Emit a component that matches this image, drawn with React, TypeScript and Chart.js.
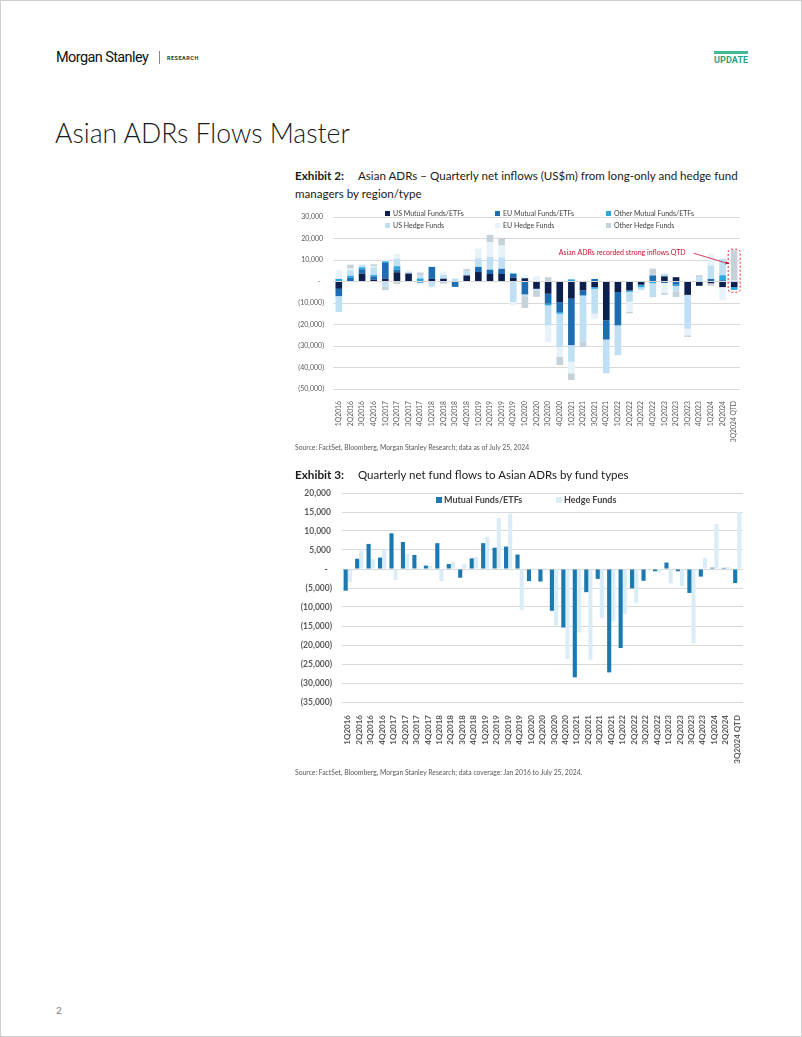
import React, { useEffect, useRef } from 'react';
import { Chart, registerables } from 'chart.js';

Chart.register(...registerables);

// ---------- shared categories ----------
const QUARTERS: string[] = [
  '1Q2016', '2Q2016', '3Q2016', '4Q2016',
  '1Q2017', '2Q2017', '3Q2017', '4Q2017',
  '1Q2018', '2Q2018', '3Q2018', '4Q2018',
  '1Q2019', '2Q2019', '3Q2019', '4Q2019',
  '1Q2020', '2Q2020', '3Q2020', '4Q2020',
  '1Q2021', '2Q2021', '3Q2021', '4Q2021',
  '1Q2022', '2Q2022', '3Q2022', '4Q2022',
  '1Q2023', '2Q2023', '3Q2023', '4Q2023',
  '1Q2024', '2Q2024', '3Q2024 QTD',
];

// ---------- Exhibit 2 series (US$m) ----------
const US_MF: number[] = [
  -3400, 0, 3700, 800, 1300, 4300, 3700, 0, 1200, 1300, 0, 2800,
  4400, 3500, 3500, 1800, 1500, -3400, -5700, -9600, -8000, -4200, -2600, -18100,
  -4900, -4200, -1500, 0, 2400, 2000, -6200, -2000, -800, -2600, -2600,
];
const EU_MF: number[] = [
  -3400, 1700, 2000, 1600, 7300, 1200, 0, -500, 5600, 0, -2500, 0,
  2400, 1900, 2400, 1700, -6000, 0, -4600, -4600, -21600, -2300, 1200, -8900,
  -15500, 0, 0, 2800, -700, -1500, 0, 0, 1200, 600, 0,
];
const OTHER_MF: number[] = [
  1200, 1000, 900, 600, 800, 1600, 0, 1400, 0, 0, 0, 0,
  0, 200, 0, 300, 0, 0, -800, -800, 1000, 0, -800, 0,
  0, -600, -1200, -800, 0, -600, 0, 0, 0, 2300, -1300,
];
const US_HF: number[] = [
  -7400, 2500, 1000, 3500, -2500, 3500, 800, 1500, -2200, 1800, 1300, 2000,
  4000, 5800, 5400, -9600, -800, -1000, -9300, -15400, -7700, -21600, -11600, -15700,
  -13900, -4600, -1300, -6500, 1200, -2500, -15700, 2000, 6200, 7700, 500,
];
const EU_HF: number[] = [
  4000, 800, 600, 700, 1000, 2300, 600, -1000, -1000, 1500, 500, 0,
  4500, 6900, 5400, -1500, 1500, 2500, -7800, -4600, -5400, 0, -2300, 0,
  0, -4600, 0, 0, -4500, 0, -3100, 0, 5600, -6200, 0,
];
const OTHER_HF: number[] = [
  0, 1800, 0, 800, -1500, -1100, 0, 1300, 0, -1000, 0, 1000,
  0, 3400, 3600, 0, -5500, -2700, 2000, -3900, -3100, -2300, 0, 0,
  0, -800, 0, 3200, -1000, -2600, -800, 900, -1200, 0, 14000,
];
const EX2_LEGEND: string[] = [
  'US Mutual Funds/ETFs', 'EU Mutual Funds/ETFs', 'Other Mutual Funds/ETFs',
  'US Hedge Funds', 'EU Hedge Funds', 'Other Hedge Funds',
];
const EX2_COLORS: string[] = ['#0c1f4d', '#1d6db4', '#2ba6df', '#bfe0f2', '#e8f3f9', '#c6d2da'];
const EX2_Y_MIN = -50000;
const EX2_Y_MAX = 30000;
const EX2_Y_STEP = 10000;
const NOTE_TEXT = 'Asian ADRs recorded strong inflows QTD';
const NOTE_ANCHOR_INDEX = 30;
const NOTE_Y = 13600;
const BOX_TOP = 15000;
const BOX_BOTTOM = -5000;

// ---------- Exhibit 3 series (US$m) ----------
const MUTUAL_FUNDS: number[] = [
  -5700, 2700, 6600, 3000, 9400, 7100, 3700, 900, 6800, 1300, -2300, 2800,
  6800, 5600, 5900, 3800, -3200, -3300, -11000, -15400, -28500, -6100, -2600, -27200,
  -20800, -5100, -3100, -600, 1700, -600, -6300, -2000, 350, 300, -3700,
];
const HEDGE_FUNDS: number[] = [
  -3500, 4800, 2600, 5000, -2900, 3900, 400, 800, -3200, 1800, 1300, 3100,
  8500, 13400, 14600, -10800, 200, 300, -14900, -23700, -16700, -23900, -12900, -13800,
  -11800, -9000, -300, -900, -3800, -4600, -19600, 2900, 11800, 500, 14900,
];
const EX3_LEGEND: string[] = ['Mutual Funds/ETFs', 'Hedge Funds'];
const EX3_COLORS: string[] = ['#1b79b0', '#daedf6'];
const EX3_Y_MIN = -35000;
const EX3_Y_MAX = 20000;
const EX3_Y_STEP = 5000;

const FONT = 'Lato, "Open Sans", sans-serif';
const AXIS_TEXT = '#595959';
const GRID = '#d9d9d9';

function fmt(v: number): string {
  if (v === 0) return '-\u2002';
  const s = Math.abs(v).toString().replace(/\B(?=(\d{3})+(?!\d))/g, ',');
  return v < 0 ? `(${s})` : `${s}\u2009`;
}

const notePlugin = {
  id: 'qtdNote',
  afterDatasetsDraw(chart: any) {
    const { ctx, scales } = chart;
    const x = scales.x;
    const y = scales.y;
    const last = QUARTERS.length - 1;
    const cx = x.getPixelForValue(last);
    const top = y.getPixelForValue(BOX_TOP);
    const bot = y.getPixelForValue(BOX_BOTTOM);
    ctx.save();
    ctx.strokeStyle = '#e0283c';
    ctx.lineWidth = 1;
    ctx.setLineDash([2, 2]);
    ctx.beginPath();
    if ((ctx as any).roundRect) (ctx as any).roundRect(cx - 6, top, 12, bot - top, 3);
    else ctx.rect(cx - 6, top, 12, bot - top);
    ctx.stroke();
    ctx.setLineDash([]);
    const tx = x.getPixelForValue(NOTE_ANCHOR_INDEX) - 2;
    const ty = y.getPixelForValue(NOTE_Y);
    ctx.fillStyle = '#c8102e';
    ctx.font = `7px ${FONT}`;
    ctx.textAlign = 'right';
    ctx.textBaseline = 'middle';
    ctx.fillText(NOTE_TEXT, tx, ty);
    // arrow
    const x0 = tx + 8;
    const y0 = ty + 1;
    const x1 = cx - 5;
    const y1 = y.getPixelForValue(BOX_TOP - 6800);
    ctx.strokeStyle = '#c8102e';
    ctx.lineWidth = 0.8;
    ctx.beginPath();
    ctx.moveTo(x0, y0);
    ctx.lineTo(x1, y1);
    ctx.stroke();
    const ang = Math.atan2(y1 - y0, x1 - x0);
    ctx.fillStyle = '#c8102e';
    ctx.beginPath();
    ctx.moveTo(x1, y1);
    ctx.lineTo(x1 - 4 * Math.cos(ang - 0.45), y1 - 4 * Math.sin(ang - 0.45));
    ctx.lineTo(x1 - 4 * Math.cos(ang + 0.45), y1 - 4 * Math.sin(ang + 0.45));
    ctx.closePath();
    ctx.fill();
    ctx.restore();
  },
};

function Exhibit2Chart() {
  const ref = useRef<HTMLCanvasElement>(null);
  useEffect(() => {
    if (!ref.current) return;
    const series = [US_MF, EU_MF, OTHER_MF, US_HF, EU_HF, OTHER_HF];
    const chart = new Chart(ref.current, {
      type: 'bar',
      data: {
        labels: QUARTERS,
        datasets: series.map((d, i) => ({
          label: EX2_LEGEND[i],
          data: d,
          backgroundColor: EX2_COLORS[i],
          borderWidth: 0,
          barPercentage: 0.57,
          categoryPercentage: 1,
          stack: 'all',
        })),
      },
      options: {
        responsive: false,
        animation: false,
        devicePixelRatio: 1,
        layout: { padding: { top: 11, right: 6, left: 0, bottom: 0 } },
        plugins: { legend: { display: false }, tooltip: { enabled: false } },
        scales: {
          x: {
            stacked: true,
            grid: { display: false },
            border: { display: false },
            ticks: {
              autoSkip: false, maxRotation: 90, minRotation: 90, padding: 4,
              color: AXIS_TEXT, font: { size: 6.8, family: FONT },
            },
            afterFit: (s: any) => { s.height = 57; s.paddingLeft = 0; s.paddingRight = 0; },
          },
          y: {
            stacked: true,
            min: EX2_Y_MIN,
            max: EX2_Y_MAX,
            ticks: {
              stepSize: EX2_Y_STEP, padding: 9, color: AXIS_TEXT,
              font: { size: 7, family: FONT },
              callback: (v: any) => fmt(Number(v)),
            },
            grid: { color: GRID, drawTicks: false, lineWidth: 1 },
            border: { display: false },
            afterFit: (s: any) => { s.width = 42; s.paddingTop = 0; s.paddingBottom = 0; },
          },
        },
      },
      plugins: [notePlugin],
    } as any);
    return () => chart.destroy();
  }, []);
  return <canvas ref={ref} width={455} height={240} style={{ position: 'absolute', left: 290, top: 205 }} />;
}

function Exhibit3Chart() {
  const ref = useRef<HTMLCanvasElement>(null);
  useEffect(() => {
    if (!ref.current) return;
    const series = [MUTUAL_FUNDS, HEDGE_FUNDS];
    const chart = new Chart(ref.current, {
      type: 'bar',
      data: {
        labels: QUARTERS,
        datasets: series.map((d, i) => ({
          label: EX3_LEGEND[i],
          data: d,
          backgroundColor: EX3_COLORS[i],
          borderWidth: 0,
          barPercentage: 1,
          categoryPercentage: 0.72,
        })),
      },
      options: {
        responsive: false,
        animation: false,
        devicePixelRatio: 1,
        layout: { padding: { top: 7, right: 8, left: 0, bottom: 0 } },
        plugins: { legend: { display: false }, tooltip: { enabled: false } },
        scales: {
          x: {
            grid: { display: false },
            border: { display: false },
            ticks: {
              autoSkip: false, maxRotation: 90, minRotation: 90, padding: 5,
              color: AXIS_TEXT, font: { size: 8, family: FONT, weight: 'bold' },
            },
            afterFit: (s: any) => { s.height = 69; s.paddingLeft = 0; s.paddingRight = 0; },
          },
          y: {
            min: EX3_Y_MIN,
            max: EX3_Y_MAX,
            ticks: {
              stepSize: EX3_Y_STEP, padding: 10, color: AXIS_TEXT,
              font: { size: 8.5, family: FONT, weight: 'bold' },
              callback: (v: any) => fmt(Number(v)),
            },
            grid: { color: GRID, drawTicks: false, lineWidth: 1 },
            border: { display: false },
            afterFit: (s: any) => { s.width = 51; s.paddingTop = 0; s.paddingBottom = 0; },
          },
        },
      },
    } as any);
    return () => chart.destroy();
  }, []);
  return <canvas ref={ref} width={460} height={285} style={{ position: 'absolute', left: 290, top: 485 }} />;
}

const abs = (left: number, top: number, extra: React.CSSProperties = {}): React.CSSProperties => ({
  position: 'absolute', left, top, whiteSpace: 'nowrap', ...extra,
});

function LegendItem({ left, top, color, text, size, font, bold, sq }: any) {
  return (
    <div style={abs(left, top, { display: 'flex', alignItems: 'center', fontFamily: FONT, fontSize: font, fontWeight: bold ? 700 : 400, color: '#404040', lineHeight: `${font + 2}px` })}>
      <span style={{ display: 'inline-block', width: sq, height: sq, background: color, marginRight: size }} />
      {text}
    </div>
  );
}

export default function App() {
  const ex2LegendPos = [
    [384, 208], [494, 208], [605, 208],
    [384, 219.5], [494, 219.5], [605, 219.5],
  ];
  return (
    <div style={{ position: 'absolute', left: 0, top: 0, width: 802, height: 1037, background: '#fff', boxSizing: 'border-box', border: '1px solid #cfcfcf', overflow: 'hidden', fontFamily: FONT }}>
      {/* header */}
      <div style={abs(55, 48, { fontFamily: 'Roboto, sans-serif', fontSize: 14.5, letterSpacing: -0.6, color: '#111', lineHeight: '18px' })}>Morgan Stanley</div>
      <div style={abs(158, 50, { width: 1, height: 13, background: '#888' })} />
      <div style={abs(166, 53, { fontFamily: 'Roboto, sans-serif', fontSize: 5.5, fontWeight: 700, letterSpacing: 0.5, color: '#333', lineHeight: '8px' })}>RESEARCH</div>
      <div style={abs(713, 50, { width: 34, height: 2.5, background: '#45bb91' })} />
      <div style={abs(713, 54, { fontFamily: 'Roboto, sans-serif', fontSize: 9, fontWeight: 700, color: '#2aa57b', lineHeight: '11px', letterSpacing: 0.1 })}>UPDATE</div>

      {/* title */}
      <div style={abs(54, 118, { fontSize: 26.6, fontWeight: 300, color: '#1a1a1a', lineHeight: '28px' })}>Asian ADRs Flows Master</div>

      {/* exhibit 2 heading */}
      <div style={abs(294, 167, { fontSize: 11.7, fontWeight: 700, color: '#1a1a1a', lineHeight: '15px' })}>Exhibit 2:</div>
      <div style={abs(357, 167, { fontSize: 11.6, color: '#1a1a1a', lineHeight: '15px' })}>Asian ADRs – Quarterly net inflows (US$m) from long-only and hedge fund</div>
      <div style={abs(294, 185, { fontSize: 11.6, color: '#1a1a1a', lineHeight: '15px' })}>managers by region/type</div>

      <Exhibit2Chart />
      {EX2_LEGEND.map((t, i) => (
        <LegendItem key={t} left={ex2LegendPos[i][0]} top={ex2LegendPos[i][1]} color={EX2_COLORS[i]} text={t} size={3} font={7} sq={5} />
      ))}

      <div style={abs(294, 442, { fontSize: 6.8, color: '#595959', lineHeight: '9px' })}>Source: FactSet, Bloomberg, Morgan Stanley Research; data as of July 25, 2024</div>

      {/* exhibit 3 heading */}
      <div style={abs(294, 466, { fontSize: 11.7, fontWeight: 700, color: '#1a1a1a', lineHeight: '15px' })}>Exhibit 3:</div>
      <div style={abs(357, 466, { fontSize: 11.5, color: '#1a1a1a', lineHeight: '15px' })}>Quarterly net fund flows to Asian ADRs by fund types</div>

      <Exhibit3Chart />
      <LegendItem left={435} top={493} color={EX3_COLORS[0]} text={EX3_LEGEND[0]} size={2} font={9} bold sq={6} />
      <LegendItem left={555} top={493} color={EX3_COLORS[1]} text={EX3_LEGEND[1]} size={2} font={9} bold sq={6} />

      <div style={abs(294, 767, { fontSize: 6.8, color: '#595959', lineHeight: '9px' })}>Source: FactSet, Bloomberg, Morgan Stanley Research; data coverage: Jan 2016 to July 25, 2024.</div>

      <div style={abs(55, 1003, { fontSize: 10, color: '#808080', lineHeight: '12px' })}>2</div>
    </div>
  );
}
